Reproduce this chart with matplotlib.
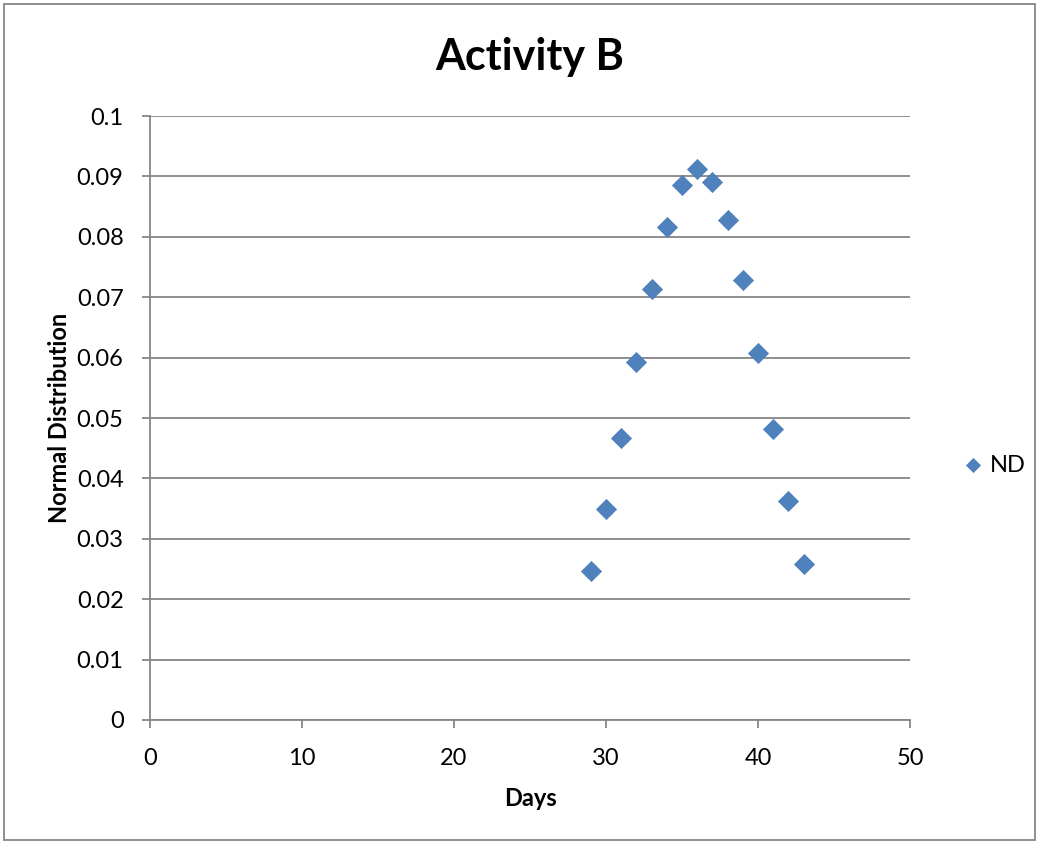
import matplotlib.pyplot as plt
from matplotlib.patches import Rectangle

days = [29, 30, 31, 32, 33, 34, 35, 36, 37, 38, 39, 40, 41, 42, 43]
nd = [0.0247, 0.0349, 0.0467, 0.0593, 0.0714, 0.0817, 0.0886, 0.0913,
      0.0891, 0.0827, 0.0729, 0.0608, 0.0482, 0.0362, 0.0259]
x_ticks = [0, 10, 20, 30, 40, 50]
y_ticks = [0, 0.01, 0.02, 0.03, 0.04, 0.05, 0.06, 0.07, 0.08, 0.09, 0.1]
y_labels = ['0', '0.01', '0.02', '0.03', '0.04', '0.05', '0.06', '0.07', '0.08', '0.09', '0.1']

plt.rcParams['font.family'] = ['Lato', 'DejaVu Sans']
grey = '#868686'

fig = plt.figure(figsize=(10.38, 8.44), dpi=100)
ax = fig.add_axes([150 / 1038, 1 - 720 / 844, 760 / 1038, 604 / 844])

ax.scatter(days, nd, marker='D', s=105, color='#4F81BD', edgecolors='#4A7EBB',
           linewidths=0.5, label='ND', zorder=3)

ax.set_xlim(0, 50)
ax.set_ylim(0, 0.1)
ax.set_xticks(x_ticks)
ax.set_yticks(y_ticks)
ax.set_yticklabels(y_labels)
ax.grid(axis='y', color=grey, linewidth=1.3)
ax.set_axisbelow(True)

for side in ['top', 'right']:
    ax.spines[side].set_visible(False)
for side in ['left', 'bottom']:
    ax.spines[side].set_color(grey)
    ax.spines[side].set_linewidth(1.3)
ax.tick_params(direction='out', length=6, width=1.3, color=grey, labelsize=17)
ax.tick_params(axis='x', pad=14)
ax.tick_params(axis='y', pad=13)

ax.set_title('Activity B', fontsize=31, fontweight='bold', pad=33)
ax.set_xlabel('Days', fontsize=17, fontweight='bold', labelpad=13)
ax.set_ylabel('Normal Distribution', fontsize=17, fontweight='bold', labelpad=4)

ax.legend(loc='center left', bbox_to_anchor=(1.07, 0.422), frameon=False,
          fontsize=17, handlelength=0.8, handletextpad=0.35, borderpad=0,
          borderaxespad=0, markerscale=0.7)

fig.patches.append(Rectangle((4 / 1038, 4 / 844), 1031 / 1038, 836 / 844,
                             transform=fig.transFigure, fill=False,
                             edgecolor=grey, linewidth=1.3))

fig.savefig('out.png', dpi=100)
